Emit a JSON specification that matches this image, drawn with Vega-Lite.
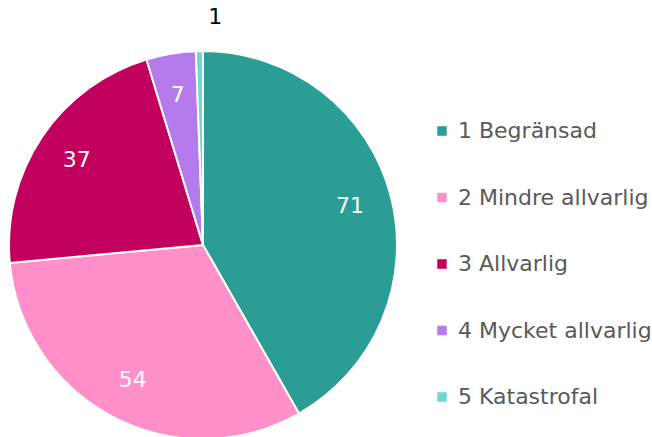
{
  "$schema": "https://vega.github.io/schema/vega-lite/v6.json",
  "width": 406,
  "height": 490,
  "autosize": "none",
  "padding": {"left": 0, "top": 0, "right": 246, "bottom": 0},
  "background": "white",
  "config": {"view": {"stroke": null}, "font": "DejaVu Sans"},
  "data": {"values": [
    {"i": 1, "kat": "1 Begränsad", "antal": 71},
    {"i": 2, "kat": "2 Mindre allvarlig", "antal": 54},
    {"i": 3, "kat": "3 Allvarlig", "antal": 37},
    {"i": 4, "kat": "4 Mycket allvarlig", "antal": 7},
    {"i": 5, "kat": "5 Katastrofal", "antal": 1}
  ]},
  "encoding": {
    "theta": {"field": "antal", "type": "quantitative", "stack": true},
    "order": {"field": "i", "type": "quantitative"}
  },
  "layer": [
    {
      "mark": {"type": "arc", "outerRadius": 194, "stroke": "white", "strokeWidth": 2},
      "encoding": {
        "color": {
          "field": "kat", "type": "nominal",
          "scale": {
            "domain": ["1 Begränsad", "2 Mindre allvarlig", "3 Allvarlig", "4 Mycket allvarlig", "5 Katastrofal"],
            "range": ["#2A9D94", "#FF8FC8", "#C2005E", "#B57BED", "#6ED8CF"]
          },
          "legend": {
            "title": null,
            "orient": "none",
            "legendX": 431,
            "legendY": 120,
            "symbolType": "square",
            "symbolSize": 90,
            "symbolStrokeWidth": 0,
            "labelFontSize": 22,
            "labelColor": "#595959",
            "labelFont": "DejaVu Sans",
            "rowPadding": 44.5,
            "labelOffset": 5,
            "labelLimit": 300
          }
        }
      }
    },
    {
      "transform": [{"filter": "datum.i < 5"}],
      "mark": {"type": "text", "radius": 152, "fontSize": 22, "color": "white", "font": "DejaVu Sans"},
      "encoding": {"text": {"field": "antal", "type": "quantitative"}}
    },
    {
      "transform": [{"filter": "datum.i == 5"}],
      "mark": {"type": "text", "radius": 228, "fontSize": 22, "color": "black", "font": "DejaVu Sans", "dx": 8},
      "encoding": {"text": {"field": "antal", "type": "quantitative"}}
    }
  ]
}
